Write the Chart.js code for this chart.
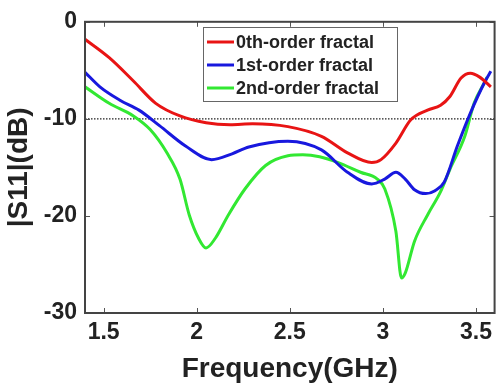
<!DOCTYPE html>
<html>
<head>
<meta charset="utf-8">
<script src="https://cdn.jsdelivr.net/npm/chart.js@4.4.1/dist/chart.umd.min.js"></script>
<style>
html,body{margin:0;padding:0;background:#fff;overflow:hidden;}
#wrap{width:498px;height:389px;}
</style>
</head>
<body>
<div id="wrap"><canvas id="c" width="498" height="389"></canvas></div>
<script>
// ---- data ----
const seriesLabels = ['0th-order fractal', '1st-order fractal', '2nd-order fractal'];

const freq0 = [1.40,1.53,1.66,1.78,1.91,2.05,2.18,2.30,2.49,2.67,2.81,2.94,2.99,3.07,3.15,3.24,3.31,3.36,3.42,3.47,3.52,3.58];
const s11_0 = [-1.8,-3.7,-6.1,-8.4,-9.7,-10.4,-10.6,-10.5,-10.8,-11.8,-13.5,-14.5,-14.2,-12.5,-10.1,-9.1,-8.6,-7.7,-5.8,-5.3,-5.7,-6.7];

const freq1 = [1.40,1.48,1.59,1.69,1.80,1.94,2.08,2.19,2.28,2.49,2.67,2.81,2.94,3.01,3.07,3.12,3.17,3.23,3.28,3.33,3.40,3.47,3.55,3.58];
const s11_1 = [-5.2,-6.7,-8.1,-9.1,-10.7,-12.8,-14.2,-13.6,-12.9,-12.3,-13.2,-15.5,-16.7,-16.2,-15.5,-16.2,-17.3,-17.7,-17.4,-16.5,-12.8,-9.4,-6.1,-5.1];

const freq2 = [1.40,1.53,1.66,1.75,1.84,1.91,1.96,2.01,2.05,2.10,2.17,2.26,2.37,2.49,2.57,2.66,2.76,2.88,2.97,3.01,3.07,3.10,3.12,3.17,3.24,3.31,3.36,3.44,3.49,3.55,3.56];
const s11_2 = [-6.7,-8.4,-9.7,-11.1,-13.5,-16.2,-19.9,-22.3,-23.3,-22.3,-19.9,-17.2,-14.8,-13.8,-13.7,-13.9,-14.5,-15.5,-16.2,-17.2,-21.6,-26.4,-25.9,-22.6,-19.9,-17.5,-15.2,-11.8,-8.4,-6.1,-5.7];

const xTicks = [1.5, 2, 2.5, 3, 3.5];
const yTicks = [-30, -20, -10, 0];
const refLevel = -10;
const xRange = [1.4, 3.6];
const yRange = [-30, 0];

const colors = ['rgb(232,20,20)', 'rgb(24,24,222)', 'rgb(50,232,50)'];

function pts(xs, ys){ return xs.map((x,i)=>({x:x, y:ys[i]})); }

const FONT = '"Liberation Sans", Arial, sans-serif';
const TXT = '#222';

// inward tick marks + frame
const framePlugin = {
  id: 'frame',
  afterDatasetsDraw(chart){
    const {ctx, chartArea:a, scales:{x, y}} = chart;
    ctx.save();
    ctx.strokeStyle = '#555';
    ctx.lineWidth = 1;
    const L = 5;
    xTicks.forEach(v=>{
      const px = Math.round(x.getPixelForValue(v)) + 0.5;
      ctx.beginPath(); ctx.moveTo(px, a.bottom); ctx.lineTo(px, a.bottom - L); ctx.stroke();
      ctx.beginPath(); ctx.moveTo(px, a.top); ctx.lineTo(px, a.top + L); ctx.stroke();
    });
    yTicks.forEach(v=>{
      const py = Math.round(y.getPixelForValue(v)) + 0.5;
      ctx.beginPath(); ctx.moveTo(a.left, py); ctx.lineTo(a.left + L, py); ctx.stroke();
      ctx.beginPath(); ctx.moveTo(a.right, py); ctx.lineTo(a.right - L, py); ctx.stroke();
    });
    ctx.strokeStyle = '#444';
    ctx.lineWidth = 2;
    ctx.strokeRect(a.left, a.top, a.right - a.left, a.bottom - a.top);
    ctx.restore();
  }
};

// legend drawn inside the plot
const legendPlugin = {
  id: 'insideLegend',
  afterDraw(chart){
    const ctx = chart.ctx;
    const bx = 203, by = 27, bw = 194, bh = 74;
    ctx.save();
    ctx.fillStyle = '#fff';
    ctx.fillRect(bx, by, bw, bh);
    ctx.strokeStyle = '#666';
    ctx.lineWidth = 1;
    ctx.strokeRect(bx + 0.5, by + 0.5, bw, bh);
    ctx.font = 'bold 18px ' + FONT;
    ctx.textBaseline = 'middle';
    ctx.fillStyle = TXT;
    seriesLabels.forEach((lab, i)=>{
      const ry = by + 15 + i * 23;
      ctx.strokeStyle = colors[i];
      ctx.lineWidth = 3;
      ctx.beginPath(); ctx.moveTo(bx + 4, ry); ctx.lineTo(bx + 31, ry); ctx.stroke();
      ctx.fillStyle = TXT;
      ctx.fillText(lab, bx + 33, ry + 1);
    });
    ctx.restore();
  }
};

const datasets = seriesLabels.map((lab, i)=>({
  label: lab,
  data: pts([freq0, freq1, freq2][i], [s11_0, s11_1, s11_2][i]),
  borderColor: colors[i],
  borderWidth: 3,
  pointRadius: 0,
  fill: false,
  cubicInterpolationMode: 'monotone'
}));
datasets.push({
  label: 'ref',
  data: [{x: xRange[0], y: refLevel}, {x: xRange[1], y: refLevel}],
  borderColor: '#222',
  borderWidth: 1.2,
  borderDash: [1.5, 1.5],
  pointRadius: 0,
  fill: false
});

new Chart(document.getElementById('c'), {
  type: 'line',
  data: { datasets },
  options: {
    responsive: false,
    animation: false,
    layout: { padding: { top: 17, right: 1, left: 0, bottom: 0 } },
    plugins: { legend: { display: false }, tooltip: { enabled: false } },
    scales: {
      x: {
        type: 'linear',
        min: xRange[0], max: xRange[1],
        afterBuildTicks(s){ s.ticks = xTicks.map(v=>({value:v})); },
        afterFit(s){ s.height = 76; },
        grid: { display: false, drawTicks: false },
        border: { display: false },
        ticks: { color: TXT, font: { family: FONT, size: 23, weight: 'bold' }, padding: 6, maxRotation: 0,
                 callback: v => String(v) },
        title: { display: true, text: 'Frequency(GHz)', color: TXT,
                 font: { family: FONT, size: 28, weight: 'bold' }, padding: { top: 0, bottom: 3 } }
      },
      y: {
        type: 'linear',
        min: yRange[0], max: yRange[1],
        afterBuildTicks(s){ s.ticks = yTicks.map(v=>({value:v})); },
        afterFit(s){ s.width = 85; },
        grid: { display: false, drawTicks: false },
        border: { display: false },
        ticks: { color: TXT, font: { family: FONT, size: 23, weight: 'bold' }, padding: 8,
                 callback: v => String(v) },
        title: { display: true, text: '|S11|(dB)', color: TXT,
                 font: { family: FONT, size: 28, weight: 'bold' }, padding: { top: 2, bottom: 0 } }
      }
    }
  },
  plugins: [framePlugin, legendPlugin]
});
</script>
</body>
</html>
